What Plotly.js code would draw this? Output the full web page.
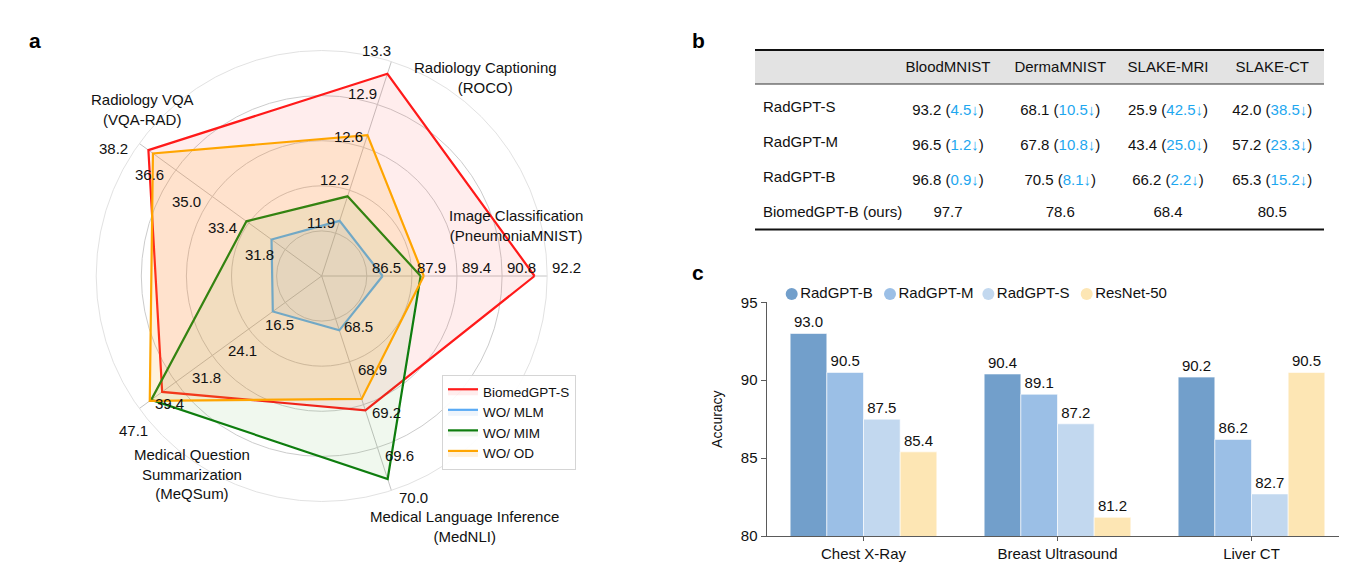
<!DOCTYPE html>
<html><head><meta charset="utf-8">
<script src="https://cdn.plot.ly/plotly-3.0.1.min.js"></script>
<style>html,body{margin:0;padding:0;background:#fff}#chart{width:1354px;height:574px}</style>
</head><body><div id="chart"></div>
<script>
const W = 1354, H = 574;
const FONT = 'Liberation Sans, Arial, Helvetica, sans-serif';

// ---------- Panel a: radar ----------
const radarAxes = ['Image Classification', 'Radiology Captioning', 'Radiology VQA', 'Medical Question Summarization', 'Medical Language Inference'];
const icTicks  = [86.5, 87.9, 89.4, 90.8, 92.2];
const rcTicks  = [11.9, 12.2, 12.6, 12.9, 13.3];
const vqaTicks = [31.8, 33.4, 35.0, 36.6, 38.2];
const sumTicks = [16.5, 24.1, 31.8, 39.4, 47.1];
const nliTicks = [68.5, 68.9, 69.2, 69.6, 70.0];
const ringLevels = [0.2, 0.4, 0.6, 0.8, 1.0];

const biomedGPTS = [91.8, 13.2, 37.8, 42.3, 69.3];
const woMLM      = [87.0, 12.0, 32.4, 19.1, 68.6];
const woMIM      = [88.2, 12.2, 33.5, 44.6, 69.9];
const woOD       = [88.3, 12.7, 37.6, 44.9, 69.2];

// ---------- Panel b: table ----------
const tableCols   = ['BloodMNIST', 'DermaMNIST', 'SLAKE-MRI', 'SLAKE-CT'];
const tableModels = ['RadGPT-S', 'RadGPT-M', 'RadGPT-B', 'BiomedGPT-B (ours)'];
const bloodMNIST  = [93.2, 96.5, 96.8, 97.7];
const bloodDrop   = [4.5, 1.2, 0.9, null];
const dermaMNIST  = [68.1, 67.8, 70.5, 78.6];
const dermaDrop   = [10.5, 10.8, 8.1, null];
const slakeMRI    = [25.9, 43.4, 66.2, 68.4];
const slakeMRIDrop= [42.5, 25.0, 2.2, null];
const slakeCT     = [42.0, 57.2, 65.3, 80.5];
const slakeCTDrop = [38.5, 23.3, 15.2, null];

// ---------- Panel c: bars ----------
const barCategories = ['Chest X-Ray', 'Breast Ultrasound', 'Liver CT'];
const radGPTB  = [93.0, 90.4, 90.2];
const radGPTM  = [90.5, 89.1, 86.2];
const radGPTS  = [87.5, 87.2, 82.7];
const resNet50 = [85.4, 81.2, 90.5];
const barNames = ['RadGPT-B', 'RadGPT-M', 'RadGPT-S', 'ResNet-50'];

// ---------------------------------------------------
const axisTicks = [icTicks, rcTicks, vqaTicks, sumTicks, nliTicks];
function norm(v, t) { return ringLevels[0] + (ringLevels[4] - ringLevels[0]) * (v - t[0]) / (t[4] - t[0]); }
const NB = '\u00a0';

const traces = [];
function radarTrace(name, vals, color, fill) {
  const r = vals.map((v, i) => norm(v, axisTicks[i]));
  return {
    type: 'scatterpolar', name: name,
    r: r.concat([r[0]]), theta: radarAxes.concat([radarAxes[0]]),
    mode: 'lines', line: {color: color, width: 2.2}, fill: 'toself', fillcolor: fill,
    legend: 'legend', hoverinfo: 'skip'
  };
}
traces.push(radarTrace('BiomedGPT-S', biomedGPTS, '#ff1a1a', 'rgba(255,60,60,0.09)'));
traces.push(radarTrace('WO/ MLM', woMLM, '#5aaaf5', 'rgba(90,150,220,0.10)'));
traces.push(radarTrace('WO/ MIM', woMIM, '#0e7d0e', 'rgba(60,170,40,0.08)'));
traces.push(radarTrace('WO/ OD', woOD, '#ffa500', 'rgba(255,170,40,0.16)'));

// table (row labels and value columns as two aligned table traces)
function fmtCol(vals, drops) {
  return vals.map((v, i) => drops[i] == null ? v.toFixed(1) :
    v.toFixed(1) + ' (<span style="color:#1ea7ef">' + drops[i].toFixed(1) + '\u2193</span>)<br>');
}
const tX0 = 755, tX1 = 1324, tTop = 50, tTextTop = 52.5;
const cellFont = {size: 15, color: '#111', family: FONT};
const clear = {color: 'rgba(0,0,0,0)'};
traces.push({
  type: 'table',
  domain: {x: [tX0 / W, 915 / W], y: [1 - 240 / H, 1 - tTextTop / H]},
  header: {values: [''], align: 'left', height: 40, fill: clear, line: {color: 'rgba(0,0,0,0)', width: 0}, font: cellFont},
  cells: {values: [tableModels.map(s => s.replace(/ /g, NB))], align: 'left', height: 35,
    fill: clear, line: {color: 'rgba(0,0,0,0)', width: 0}, font: cellFont}
});
traces.push({
  type: 'table',
  domain: {x: [891 / W, tX1 / W], y: [1 - 240 / H, 1 - tTextTop / H]},
  columnwidth: [114, 110.5, 105, 103.5],
  header: {values: tableCols, align: 'center', height: 40, fill: clear, line: {color: 'rgba(0,0,0,0)', width: 0}, font: cellFont},
  cells: {
    values: [fmtCol(bloodMNIST, bloodDrop), fmtCol(dermaMNIST, dermaDrop), fmtCol(slakeMRI, slakeMRIDrop), fmtCol(slakeCT, slakeCTDrop)],
    align: 'center', height: 35, fill: clear, line: {color: 'rgba(0,0,0,0)', width: 0}, font: cellFont
  }
});

// bars
const barColors = ['#729fcb', '#9bbfe6', '#c2d8ef', '#fde6b4'];
[radGPTB, radGPTM, radGPTS, resNet50].forEach((vals, i) => {
  traces.push({
    type: 'bar', x: barCategories, y: vals, name: barNames[i],
    marker: {color: barColors[i], line: {color: 'rgba(255,255,255,0.6)', width: 1}},
    text: vals.map(v => v.toFixed(1)), textposition: 'outside', cliponaxis: false,
    textfont: {size: 15, color: '#111', family: FONT},
    showlegend: false, hoverinfo: 'skip', xaxis: 'x', yaxis: 'y'
  });
});
// key row for the bars (drawn on a hidden axis)
traces.push({
  type: 'scatter', mode: 'markers+text', x: barNames.map((n, i) => i), y: barNames.map(() => 0),
  text: barNames, textposition: 'middle right', textfont: {size: 15, color: '#111', family: FONT},
  marker: {color: barColors, size: 12, symbol: 'circle'}, cliponaxis: false,
  xaxis: 'x2', yaxis: 'y2', showlegend: false, hoverinfo: 'skip'
});

// geometry of the polar area
const cx = 321.7, cy = 276, R = 225.5;
function ann(text, px, py, opts) {
  return Object.assign({text: text, x: px / W, y: 1 - py / H, xref: 'paper', yref: 'paper',
    xanchor: 'center', yanchor: 'middle', showarrow: false,
    font: {size: 15, color: '#111', family: FONT}}, opts || {});
}
const annotations = [
  ann('Radiology Captioning<br>(ROCO)', 485, 77.5),
  ann('Image Classification<br>(PneumoniaMNIST)', 516, 225),
  ann('Radiology VQA<br>(VQA-RAD)', 142, 110),
  ann('Medical Question<br>Summarization<br>(MeQSum)', 192, 474),
  ann('Medical Language Inference<br>(MedNLI)', 464, 526),
  ann('<b>a</b>', 35, 41, {font: {size: 21, color: '#000', family: FONT}}),
  ann('<b>b</b>', 698, 41, {font: {size: 21, color: '#000', family: FONT}}),
  ann('<b>c</b>', 698, 272, {font: {size: 21, color: '#000', family: FONT}})
];
// radar ring tick labels, placed next to each ring on each spoke
const tickLabelStyle = [
  {dx: 3, dy: -8.5, xanchor: 'left'},
  {dx: -15, dy: -11, xanchor: 'center'},
  {dx: -26, dy: 5, xanchor: 'center'},
  {dx: -6, dy: 21.5, xanchor: 'center'},
  {dx: 22.5, dy: 7.5, xanchor: 'center'}
];
axisTicks.forEach((t, i) => {
  const ang = i * 2 * Math.PI / radarAxes.length;
  t.forEach((v, k) => {
    const px = cx + R * ringLevels[k] * Math.cos(ang);
    const py = cy - R * ringLevels[k] * Math.sin(ang);
    const s = tickLabelStyle[i];
    annotations.push(ann(v.toFixed(1), px, py, {xanchor: s.xanchor, xshift: s.dx, yshift: -s.dy}));
  });
});

const shapes = [
  {type: 'rect', xref: 'paper', yref: 'paper', x0: tX0 / W, x1: tX1 / W, y0: 1 - 84 / H, y1: 1 - tTop / H,
   fillcolor: '#e3e3e3', line: {width: 0}, layer: 'below'},
  {type: 'line', xref: 'paper', yref: 'paper', x0: tX0 / W, x1: tX1 / W, y0: 1 - tTop / H, y1: 1 - tTop / H,
   line: {color: '#111', width: 2}},
  {type: 'line', xref: 'paper', yref: 'paper', x0: tX0 / W, x1: tX1 / W, y0: 1 - 84 / H, y1: 1 - 84 / H,
   line: {color: '#333', width: 1}},
  {type: 'line', xref: 'paper', yref: 'paper', x0: tX0 / W, x1: tX1 / W, y0: 1 - 229.5 / H, y1: 1 - 229.5 / H,
   line: {color: '#111', width: 2}}
];

const layout = {
  width: W, height: H, margin: {l: 0, r: 0, t: 0, b: 0},
  paper_bgcolor: '#fff', plot_bgcolor: 'rgba(0,0,0,0)',
  font: {family: FONT, size: 15, color: '#111'},
  showlegend: true,
  polar: {
    domain: {x: [(cx - R) / W, (cx + R) / W], y: [1 - (cy + R) / H, 1 - (cy - R) / H]},
    bgcolor: 'rgba(0,0,0,0)',
    radialaxis: {range: [0, 1], tickvals: ringLevels, showticklabels: false, ticks: '',
      showline: false, gridcolor: '#cccccc', gridwidth: 1, angle: 0},
    angularaxis: {type: 'category', categoryarray: radarAxes, rotation: 0, direction: 'counterclockwise',
      showticklabels: false, ticks: '', gridcolor: '#c4c4c4', linecolor: '#e2e2e2', linewidth: 1}
  },
  xaxis: {domain: [766.5 / W, (766.5 + 2.95 * 194) / W], range: [-0.5, 2.45], type: 'category',
    showline: true, linecolor: '#5a5a5a', linewidth: 1, ticks: 'outside', ticklen: 4, tickcolor: '#5a5a5a',
    tickfont: {size: 15, color: '#111'}, showgrid: false, zeroline: false, fixedrange: true},
  yaxis: {domain: [1 - 536 / H, 1 - 302.3 / H], range: [80, 95], tickvals: [80, 85, 90, 95],
    showline: true, linecolor: '#5a5a5a', linewidth: 1, ticks: 'outside', ticklen: 5, tickcolor: '#5a5a5a',
    tickfont: {size: 15, color: '#111'}, showgrid: false, zeroline: false, fixedrange: true,
    title: {text: 'Accuracy', font: {size: 14, color: '#111'}, standoff: 14}},
  xaxis2: {domain: [780 / W, 1180 / W], range: [-11.7 / 98.33, -11.7 / 98.33 + 400 / 98.33], anchor: 'y2',
    visible: false, fixedrange: true},
  yaxis2: {domain: [1 - 304 / H, 1 - 284 / H], range: [-1, 1], anchor: 'x2', visible: false, fixedrange: true},
  barmode: 'group', bargap: 0.244, bargroupgap: 0,
  legend: {x: 442 / W, y: 1 - 375 / H, xanchor: 'left', yanchor: 'top', bordercolor: '#d5d5d5', borderwidth: 1,
    bgcolor: 'rgba(255,255,255,0.9)', font: {size: 13.5, color: '#111'}, itemwidth: 30, tracegroupgap: 0},
  annotations: annotations, shapes: shapes
};

Plotly.newPlot('chart', traces, layout, {displayModeBar: false, staticPlot: true});
</script>
</body></html>
